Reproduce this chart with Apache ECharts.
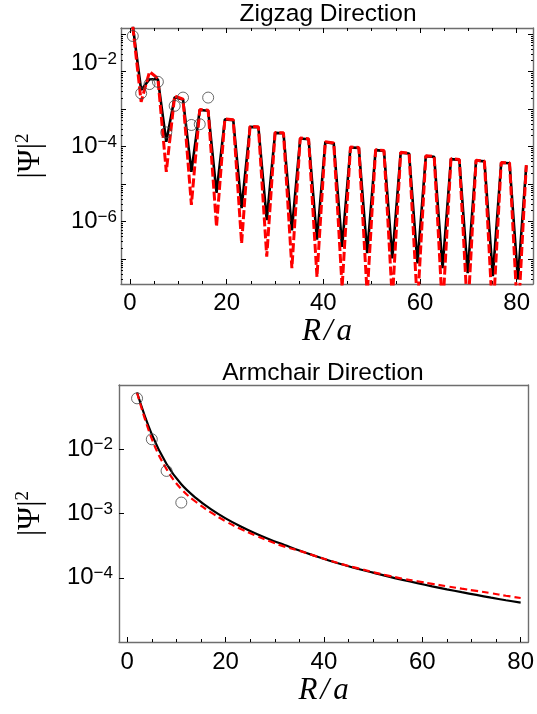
<!DOCTYPE html>
<html><head><meta charset="utf-8">
<script src="https://cdn.jsdelivr.net/npm/echarts@6/dist/echarts.min.js"></script>
<style>html,body{margin:0;padding:0;background:#fff}#c{width:537px;height:714px}</style>
</head><body><div id="c"></div>
<script>
// ---------- DATA ----------
// Zigzag direction: site positions R/a
const zigzagX = [0.58, 2.31, 4.04, 5.77, 7.51, 9.24, 10.97, 12.70, 14.43, 16.17, 17.90, 19.63, 21.36, 23.09, 24.83, 26.56,
  28.29, 30.02, 31.75, 33.49, 35.22, 36.95, 38.68, 40.41, 42.15, 43.88, 45.61, 47.34, 49.07, 50.81, 52.54, 54.27,
  56.00, 57.73, 59.47, 61.20, 62.93, 64.66, 66.40, 68.13, 69.86, 71.59, 73.32, 75.06, 76.79, 78.52, 80.25, 81.98];
// black solid |Psi|^2
const zigzagBlack = [1.66e-1, 3.24e-3, 6.31e-3, 6.31e-3, 1.35e-4, 2.09e-3, 1.82e-3, 2.14e-5, 9.55e-4, 9.12e-4, 5.89e-6, 5.37e-4,
  5.13e-4, 2.29e-6, 3.39e-4, 3.31e-4, 1.10e-6, 2.34e-4, 2.29e-4, 5.89e-7, 1.66e-4, 1.58e-4, 3.31e-7, 1.32e-4,
  1.23e-4, 2.14e-7, 9.55e-5, 9.33e-5, 1.45e-7, 8.13e-5, 7.76e-5, 1.05e-7, 6.92e-5, 6.61e-5, 7.76e-8, 5.62e-5,
  5.37e-5, 5.75e-8, 4.68e-5, 4.47e-5, 4.27e-8, 4.27e-5, 4.07e-5, 3.55e-8, 3.72e-5, 3.63e-5, 2.88e-8, 3.16e-5];
// red dashed |Psi|^2
const zigzagRed = [1.58e-1, 1.58e-3, 1.00e-2, 6.61e-3, 2.14e-5, 2.24e-3, 1.86e-3, 2.82e-6, 9.77e-4, 9.33e-4, 7.41e-7, 5.50e-4,
  5.25e-4, 2.63e-7, 3.47e-4, 3.39e-4, 1.17e-7, 2.40e-4, 2.34e-4, 5.75e-8, 1.70e-4, 1.62e-4, 3.39e-8, 1.35e-4,
  1.26e-4, 1.78e-8, 9.77e-5, 9.55e-5, 1.12e-8, 8.32e-5, 7.94e-5, 7.94e-9, 7.08e-5, 6.76e-5, 5.62e-9, 5.75e-5,
  5.50e-5, 3.98e-9, 4.79e-5, 4.57e-5, 3.16e-9, 4.37e-5, 4.17e-5, 2.51e-9, 3.80e-5, 3.72e-5, 2.00e-9, 3.24e-5];
// open circles
const zigzagDotsX = [0.58, 2.31, 4.04, 5.77, 7.51, 9.24, 10.97, 12.70, 14.43, 16.17];
const zigzagDots = [8.95e-2, 2.65e-3, 4.68e-3, 5.37e-3, 2.40e-4, 1.23e-3, 2.04e-3, 3.80e-4, 3.98e-4, 2.04e-3];

// Armchair direction
const armchairX = [2, 5, 8, 11, 14, 17, 20, 23, 26, 29, 32, 35, 38, 41, 44, 47, 50, 53, 56, 59, 62, 65, 68, 71, 74, 77, 80];
const armchairBlack = [7.64e-2, 1.70e-2, 5.89e-3, 2.85e-3, 1.74e-3, 1.17e-3, 8.41e-4, 6.34e-4, 4.93e-4, 3.94e-4, 3.23e-4,
  2.65e-4, 2.21e-4, 1.86e-4, 1.59e-4, 1.37e-4, 1.20e-4, 1.05e-4, 9.27e-5, 8.24e-5, 7.36e-5, 6.61e-5, 5.96e-5,
  5.40e-5, 4.90e-5, 4.47e-5, 4.10e-5];
const armchairRed = [7.59e-2, 1.45e-2, 4.90e-3, 2.40e-3, 1.51e-3, 1.04e-3, 7.57e-4, 5.78e-4, 4.56e-4, 3.69e-4, 3.05e-4,
  2.63e-4, 2.21e-4, 1.87e-4, 1.60e-4, 1.40e-4, 1.22e-4, 1.08e-4, 9.66e-5, 8.81e-5, 8.04e-5, 7.36e-5, 6.76e-5,
  6.24e-5, 5.75e-5, 5.25e-5, 4.84e-5];
const armchairDotsX = [2, 5, 8, 11];
const armchairDots = [6.2e-2, 1.43e-2, 4.6e-3, 1.48e-3];

// ticks
const xMajorTicks = [0, 20, 40, 60, 80];
const xMinorTicks = [5, 10, 15, 25, 30, 35, 45, 50, 55, 65, 70, 75];
const zigzagYTicks = [1e-7, 1e-6, 1e-5, 1e-4, 1e-3, 1e-2, 1e-1];
const zigzagYLabels = [1e-6, 1e-4, 1e-2];
const armchairYTicks = [1e-4, 1e-3, 1e-2];
const armchairYLabels = [1e-4, 1e-3, 1e-2];
const logMinorFactors = [2, 3, 4, 5, 6, 7, 8, 9];
const logMinorExps = [-8, -7, -6, -5, -4, -3, -2, -1];

// ---------- CHART ----------
const zip = (xs, ys) => xs.map((x, i) => [x, ys[i]]);
const logMinor = [];
logMinorExps.forEach(e => logMinorFactors.forEach(k => logMinor.push(k * Math.pow(10, e))));

const SANS = '"Liberation Sans", Arial, sans-serif';
const SERIF = '"Liberation Serif", "Times New Roman", serif';
const FRAME = '#6e6e6e';

function base(o) {
  return Object.assign({
    splitLine: { show: false },
    axisLine: { show: false, onZero: false },
    axisTick: { show: false },
    axisLabel: { show: false }
  }, o);
}
function frameLine() { return { show: true, onZero: false, lineStyle: { color: FRAME, width: 1.4 } }; }
function ticks(vals, len) { return { show: true, inside: true, length: len, customValues: vals, lineStyle: { color: '#000', width: 1 } }; }

const richTick = {
  b: { fontSize: 24, fontFamily: SANS, color: '#000', lineHeight: 26 },
  e: { fontSize: 17, fontFamily: SANS, color: '#000', verticalAlign: 'top', lineHeight: 26 },
  g: { fontSize: 4, lineHeight: 16 }
};
function pow10Label(shiftTop) {
  return function (v) {
    const n = Math.round(Math.log10(v));
    const s = '{b|10}{e|\u2212' + Math.abs(n) + '}';
    return (shiftTop && n === -2) ? s + '\n{g| }' : s;
  };
}
const nameRich = {
  i: { fontFamily: SERIF, fontStyle: 'italic', fontSize: 31, color: '#000' },
  s: { fontFamily: SERIF, fontStyle: 'italic', fontSize: 31, color: '#000', padding: [0, 4, 0, 3] }
};
const psiRich = {
  n: { fontFamily: SERIF, fontSize: 31, color: '#000', lineHeight: 34 },
  sup: { fontFamily: SERIF, fontSize: 19, color: '#000', verticalAlign: 'top', lineHeight: 34 }
};

const zzX = { min: -1.86, max: 83.37 };
const acX = { min: -1.67, max: 81.55 };
const zzY = { min: Math.pow(10, -7.66), max: Math.pow(10, -0.835) };
const acY = { min: 1e-5, max: 1e-1 };
const tickFont = { fontSize: 24, fontFamily: SANS, color: '#000' };

const option = {
  animation: false,
  backgroundColor: '#fff',
  grid: [
    { left: 121, top: 28, width: 412, height: 256 },
    { left: 119, top: 385, width: 414, height: 257 }
  ],
  xAxis: [
    base(Object.assign({ type: 'value', gridIndex: 0, position: 'bottom',
      axisLine: frameLine(), axisTick: ticks(xMajorTicks, 5),
      axisLabel: Object.assign({ show: true, customValues: xMajorTicks, margin: 7 }, tickFont),
      name: '{i|R}{s|/}{i|a}', nameLocation: 'middle', nameGap: 25, nameTextStyle: { rich: nameRich } }, zzX)),
    base(Object.assign({ type: 'value', gridIndex: 0, position: 'bottom', axisTick: ticks(xMinorTicks, 3) }, zzX)),
    base(Object.assign({ type: 'value', gridIndex: 0, position: 'top', axisLine: frameLine(), axisTick: ticks(xMajorTicks, 5) }, zzX)),
    base(Object.assign({ type: 'value', gridIndex: 0, position: 'top', axisTick: ticks(xMinorTicks, 3) }, zzX)),
    base(Object.assign({ type: 'value', gridIndex: 1, position: 'bottom',
      axisLine: frameLine(), axisTick: ticks(xMajorTicks, 5),
      axisLabel: Object.assign({ show: true, customValues: xMajorTicks, margin: 8 }, tickFont),
      name: '{i|R}{s|/}{i|a}', nameLocation: 'middle', nameGap: 33, nameTextStyle: { rich: nameRich } }, acX)),
    base(Object.assign({ type: 'value', gridIndex: 1, position: 'bottom', axisTick: ticks(xMinorTicks, 3) }, acX)),
    base(Object.assign({ type: 'value', gridIndex: 1, position: 'top', axisLine: frameLine() }, acX))
  ],
  yAxis: [
    base(Object.assign({ type: 'log', logBase: 10, gridIndex: 0, position: 'left',
      axisLine: frameLine(), axisTick: ticks(zigzagYTicks, 5),
      axisLabel: { show: true, customValues: zigzagYLabels, margin: 4, formatter: pow10Label(true), rich: richTick },
      name: '{n|\u007C\u03A8\u007C}{sup|2}', nameLocation: 'middle', nameRotate: 90, nameGap: 73, nameTextStyle: { rich: psiRich } }, zzY)),
    base(Object.assign({ type: 'log', logBase: 10, gridIndex: 0, position: 'left', axisTick: ticks(logMinor, 2) }, zzY)),
    base(Object.assign({ type: 'log', logBase: 10, gridIndex: 0, position: 'right', axisLine: frameLine(), axisTick: ticks(zigzagYTicks, 5) }, zzY)),
    base(Object.assign({ type: 'log', logBase: 10, gridIndex: 0, position: 'right', axisTick: ticks(logMinor, 2) }, zzY)),
    base(Object.assign({ type: 'log', logBase: 10, gridIndex: 1, position: 'left',
      axisLine: frameLine(), axisTick: ticks(armchairYTicks, 5),
      axisLabel: { show: true, customValues: armchairYLabels, margin: 6, formatter: pow10Label(false), rich: richTick },
      name: '{n|\u007C\u03A8\u007C}{sup|2}', nameLocation: 'middle', nameRotate: 90, nameGap: 71, nameTextStyle: { rich: psiRich } }, acY)),
    base(Object.assign({ type: 'log', logBase: 10, gridIndex: 1, position: 'right', axisLine: frameLine() }, acY))
  ],
  series: [
    { type: 'line', xAxisIndex: 0, yAxisIndex: 0, data: zip(zigzagX, zigzagBlack), symbol: 'none', clip: true,
      lineStyle: { color: '#000', width: 2.6 }, z: 2 },
    { type: 'line', xAxisIndex: 0, yAxisIndex: 0, data: zip(zigzagX, zigzagRed), symbol: 'none', clip: true,
      lineStyle: { color: '#ff0000', width: 3, type: [9, 3] }, z: 3 },
    { type: 'scatter', xAxisIndex: 0, yAxisIndex: 0, data: zip(zigzagDotsX, zigzagDots), symbol: 'circle', symbolSize: 11,
      itemStyle: { color: 'rgba(255,255,255,0)', borderColor: '#444', borderWidth: 1 }, z: 4 },
    { type: 'line', xAxisIndex: 4, yAxisIndex: 4, data: zip(armchairX, armchairBlack), symbol: 'none', smooth: 0.4, clip: true,
      lineStyle: { color: '#000', width: 2.2 }, z: 2 },
    { type: 'line', xAxisIndex: 4, yAxisIndex: 4, data: zip(armchairX, armchairRed), symbol: 'none', smooth: 0.4, clip: true,
      lineStyle: { color: '#ff0000', width: 2.2, type: [7, 4] }, z: 3 },
    { type: 'scatter', xAxisIndex: 4, yAxisIndex: 4, data: zip(armchairDotsX, armchairDots), symbol: 'circle', symbolSize: 11,
      itemStyle: { color: 'rgba(255,255,255,0)', borderColor: '#444', borderWidth: 1 }, z: 4 }
  ],
  graphic: [
    { type: 'text', x: 328, y: 14, style: { text: 'Zigzag Direction', font: '24.5px ' + SANS, fill: '#000', textAlign: 'center', textVerticalAlign: 'middle' } },
    { type: 'text', x: 323, y: 373, style: { text: 'Armchair Direction', font: '24.5px ' + SANS, fill: '#000', textAlign: 'center', textVerticalAlign: 'middle' } }
  ]
};
const chart = echarts.init(document.getElementById('c'), null, { renderer: 'canvas' });
chart.setOption(option);
</script>
</body></html>
